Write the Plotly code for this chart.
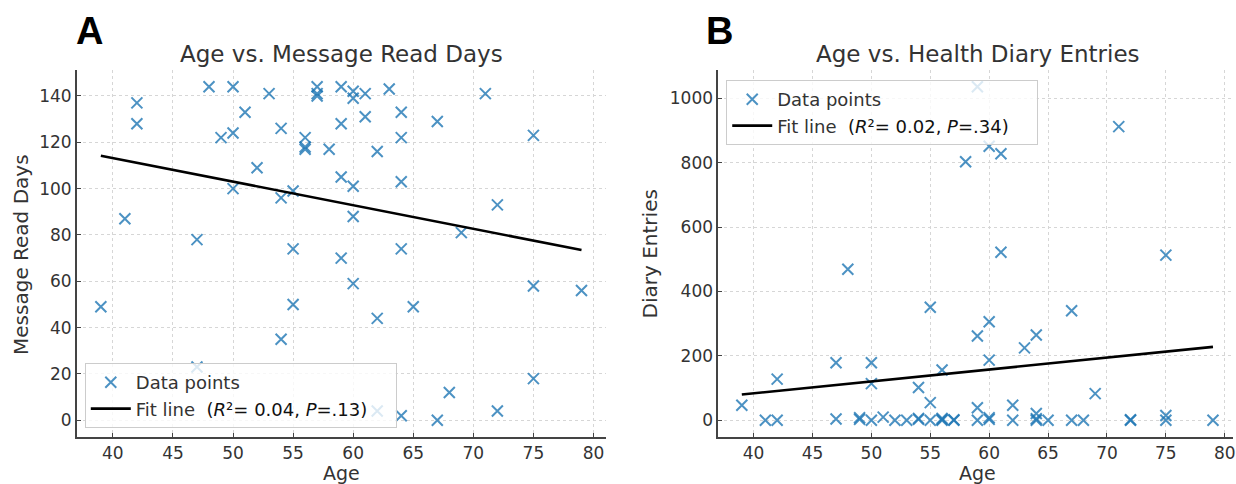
import plotly.graph_objects as go

# ---------------- data ----------------
age_a = [39, 41, 42, 42, 47, 47, 48, 49, 50, 50, 50, 51, 52, 53, 54, 54, 54,
         55, 55, 55, 56, 56, 56, 57, 57, 57, 58, 59, 59, 59, 59,
         60, 60, 60, 60, 60, 61, 61, 62, 62, 62, 63, 64, 64, 64, 64, 64,
         65, 67, 67, 68, 69, 71, 72, 72, 75, 75, 75, 79]
read_days = [49, 87, 137, 128, 78, 23, 144, 122, 144, 124, 100, 133, 109, 141,
             126, 96, 35, 99, 74, 50, 122, 118, 117, 144, 141, 140, 117,
             144, 128, 105, 70, 142, 139, 101, 88, 59, 141, 131, 116, 44, 4,
             143, 133, 122, 103, 74, 2, 49, 129, 0, 12, 81, 141, 93, 4,
             123, 58, 18, 56]

age_b = [39, 41, 42, 42, 47, 47, 48, 49, 49, 50, 50, 50, 51, 52, 53, 54, 54, 54,
         55, 55, 55, 56, 56, 56, 56, 57, 57, 58, 59, 59, 59, 59,
         60, 60, 60, 60, 60, 61, 61, 62, 62, 63, 64, 64, 64, 64,
         65, 67, 67, 68, 69, 71, 72, 72, 75, 75, 75, 79]
diary = [47, 0, 0, 128, 4, 179, 469, 3, 8, 0, 114, 179, 10, 0, 0, 3, 6, 102,
         0, 55, 351, 0, 3, 6, 156, 0, 2, 803, 0, 39, 262, 1036,
         3, 8, 187, 306, 851, 828, 522, 0, 47, 225, 0, 5, 21, 265,
         0, 0, 340, 0, 83, 912, 0, 2, 0, 15, 513, 0]

# fitted lines (end points)
fit_age = [39, 79]
fit_a = [114.2, 73.5]
fit_b = [80, 228]

legend_a = ["Data points", "Fit line  <span style='color:#111'>(<i>R</i>²= 0.04, <i>P</i>=.13)</span>"]
legend_b = ["Data points", "Fit line  <span style='color:#111'>(<i>R</i>²= 0.02, <i>P</i>=.34)</span>"]
titles = ["Age vs. Message Read Days", "Age vs. Health Diary Entries"]
panel_labels = ["A", "B"]
y_titles = ["Message Read Days", "Diary Entries"]
x_title = "Age"

# ---------------- styling ----------------
W, H = 1236, 484
FONT = "DejaVu Sans"
TXT = "#333333"
MARK = "rgba(31,119,180,0.8)"
PAD = "&nbsp;" * 4

def px_x(p):
    return p / W

def px_y(p):
    return (H - p) / H

fig = go.Figure()

fig.add_trace(go.Scatter(
    x=age_a, y=read_days, mode="markers", name=legend_a[0],
    marker=dict(symbol="x-thin", size=11, color=MARK, line=dict(width=2, color=MARK)),
    xaxis="x", yaxis="y", legend="legend"))
fig.add_trace(go.Scatter(
    x=fit_age, y=fit_a, mode="lines", name=legend_a[1] + PAD,
    line=dict(color="black", width=2.6), xaxis="x", yaxis="y", legend="legend"))

fig.add_trace(go.Scatter(
    x=age_b, y=diary, mode="markers", name=legend_b[0],
    marker=dict(symbol="x-thin", size=11, color=MARK, line=dict(width=2, color=MARK)),
    xaxis="x2", yaxis="y2", legend="legend2"))
fig.add_trace(go.Scatter(
    x=fit_age, y=fit_b, mode="lines", name=legend_b[1] + PAD,
    line=dict(color="black", width=2.6), xaxis="x2", yaxis="y2", legend="legend2"))

ydom = [px_y(437), px_y(70)]
common_ax = dict(
    showgrid=True, gridcolor="#d6d6d6", griddash="dot", gridwidth=1,
    zeroline=False, showline=True, linecolor="#444444", linewidth=1.6,
    ticks="inside", ticklen=4, tickwidth=1.2, tickcolor="#444444",
    tickfont=dict(family=FONT, size=17, color=TXT), mirror=False,
    ticklabeloverflow="allow",
)

legend_style = dict(bgcolor="rgba(255,255,255,0.8)", bordercolor="#cccccc", borderwidth=1,
                    itemwidth=40, font=dict(family=FONT, size=18, color=TXT))

fig.update_layout(
    width=W, height=H,
    margin=dict(l=0, r=0, t=0, b=0),
    paper_bgcolor="white", plot_bgcolor="white",
    showlegend=True,
    xaxis=dict(domain=[px_x(77), px_x(607)], range=[37, 81], tick0=40, dtick=5,
               anchor="y", **common_ax),
    yaxis=dict(domain=ydom, range=[-7.2, 151.2], tick0=0, dtick=20,
               anchor="x", **common_ax),
    xaxis2=dict(domain=[px_x(720), 1.0], range=[37, 80.7], tick0=40, dtick=5,
                anchor="y2", **common_ax),
    yaxis2=dict(domain=ydom, range=[-51.8, 1087.8], tick0=0, dtick=200,
                anchor="x2", **common_ax),
    legend=dict(x=px_x(85), y=px_y(428), xanchor="left", yanchor="bottom", **legend_style),
    legend2=dict(x=px_x(728), y=px_y(80), xanchor="left", yanchor="top", **legend_style),
)

ann = []
# panel titles
for cx, t in zip([342, 980], titles):
    ann.append(dict(x=px_x(cx), y=px_y(54), xref="paper", yref="paper", text=t,
                    showarrow=False, xanchor="center", yanchor="middle",
                    font=dict(family=FONT, size=23, color=TXT)))
# panel labels
for lx, t in zip([74, 706], panel_labels):
    ann.append(dict(x=px_x(lx), y=px_y(31), xref="paper", yref="paper", text="<b>%s</b>" % t,
                    showarrow=False, xanchor="left", yanchor="middle",
                    font=dict(family="Liberation Sans", size=38, color="black")))
# x-axis titles
for cx in [342, 980]:
    ann.append(dict(x=px_x(cx), y=0, xref="paper", yref="paper", text=x_title,
                    showarrow=False, xanchor="center", yanchor="bottom", borderpad=0,
                    yshift=-1, font=dict(family=FONT, size=19, color=TXT)))
# y-axis titles
for cx, t in zip([21, 652], y_titles):
    ann.append(dict(x=px_x(cx), y=px_y(254), xref="paper", yref="paper", text=t,
                    showarrow=False, xanchor="center", yanchor="middle", textangle=-90,
                    font=dict(family=FONT, size=20, color=TXT)))
fig.update_layout(annotations=ann)

# remove the browser's default 8px body margin so the figure sits at (0, 0)
fig.write_html("out.html", config={"displayModeBar": False},
               post_script="document.body.style.margin='0';")
